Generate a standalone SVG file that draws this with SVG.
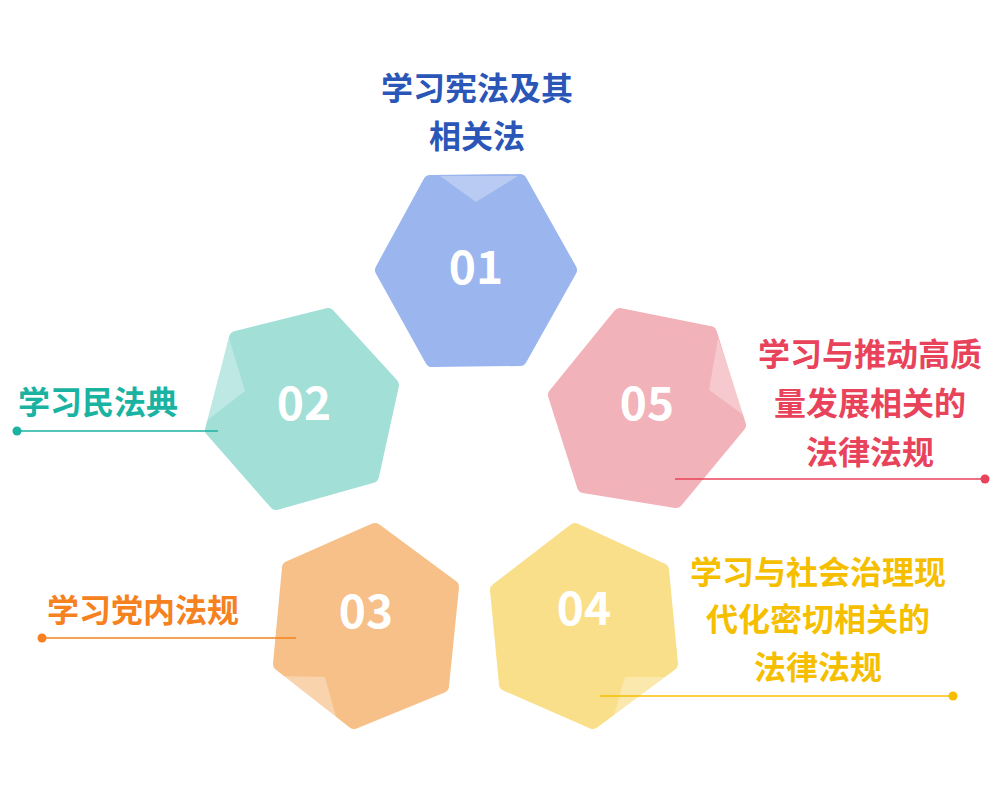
<svg xmlns="http://www.w3.org/2000/svg" width="1000" height="800" viewBox="0 0 1000 800">
<style>
.hex{stroke-linejoin:round;stroke-width:14}
.num{font-family:"Noto Sans CJK SC","Noto Sans",sans-serif;font-weight:bold;font-size:46px;fill:#fff;text-anchor:middle}
.lbl{font-family:"Noto Sans CJK SC",sans-serif;font-weight:bold;font-size:32px}
.fold{fill:#fff;opacity:0.3}
</style>
<rect width="1000" height="800" fill="#fff"/>
<g id="node01">
<polygon class="hex" points="430,182 520,181 570,270 520,359 432,360 382,270" fill="#9bb5ee" stroke="#9bb5ee"/>
<polygon class="fold" points="440,176 476,202 518,176"/>
<text class="num" x="476" y="284">01</text>
<text class="lbl" x="477" y="100" fill="#2a56b8" text-anchor="middle">学习宪法及其</text>
<text class="lbl" x="477" y="148" fill="#2a56b8" text-anchor="middle">相关法</text>
</g>
<g id="node02">
<polygon class="hex" points="328,315 392,385 372,476 276,503 212,430 236,338" fill="#a2dfd7" stroke="#a2dfd7"/>
<polygon class="fold" points="229,338 245,391 205,422"/>
<text class="num" x="304" y="420">02</text>
<text class="lbl" x="18" y="414" fill="#1ab3a2">学习民法典</text>
</g>
<g id="node05">
<polygon class="hex" points="620,315 710,333 739,425 676,501 584,486 555,395" fill="#f2b2b9" stroke="#f2b2b9"/>
<polygon class="fold" points="718,338 709,390 745,416"/>
<text class="num" x="647" y="420">05</text>
<text class="lbl" x="870" y="366" fill="#e8435a" text-anchor="middle">学习与推动高质</text>
<text class="lbl" x="870" y="415" fill="#e8435a" text-anchor="middle">量发展相关的</text>
<text class="lbl" x="870" y="464" fill="#e8435a" text-anchor="middle">法律法规</text>
</g>
<g id="node03">
<polygon class="hex" points="375,530 452,587 442,686 354,722 280,664 289,568" fill="#f7c088" stroke="#f7c088"/>
<polygon class="fold" points="276,676 325,677 338,724"/>
<text class="num" x="366" y="628">03</text>
<text class="lbl" x="47" y="622" fill="#f5821f">学习党内法规</text>
</g>
<g id="node04">
<polygon class="hex" points="575,530 662,570 671,664 593,722 506,684 497,590" fill="#fadf8a" stroke="#fadf8a"/>
<polygon class="fold" points="625,677 675,677 612,722"/>
<text class="num" x="584" y="625">04</text>
<text class="lbl" x="818" y="584" fill="#f5bf00" text-anchor="middle">学习与社会治理现</text>
<text class="lbl" x="818" y="631" fill="#f5bf00" text-anchor="middle">代化密切相关的</text>
<text class="lbl" x="818" y="679" fill="#f5bf00" text-anchor="middle">法律法规</text>
</g>
<g id="connectors" stroke-width="1.5">
<line x1="17" y1="431" x2="218" y2="431" stroke="#1ab3a2"/><circle cx="17" cy="431" r="4.5" fill="#1ab3a2"/>
<line x1="42" y1="638" x2="296" y2="638" stroke="#f5821f"/><circle cx="42" cy="638" r="4.5" fill="#f5821f"/>
<line x1="600" y1="696" x2="953" y2="696" stroke="#f5bf00"/><circle cx="953" cy="696" r="4.5" fill="#f5bf00"/>
<line x1="675" y1="479" x2="985" y2="479" stroke="#e8435a"/><circle cx="985" cy="479" r="4.5" fill="#e8435a"/>
</g>
</svg>
